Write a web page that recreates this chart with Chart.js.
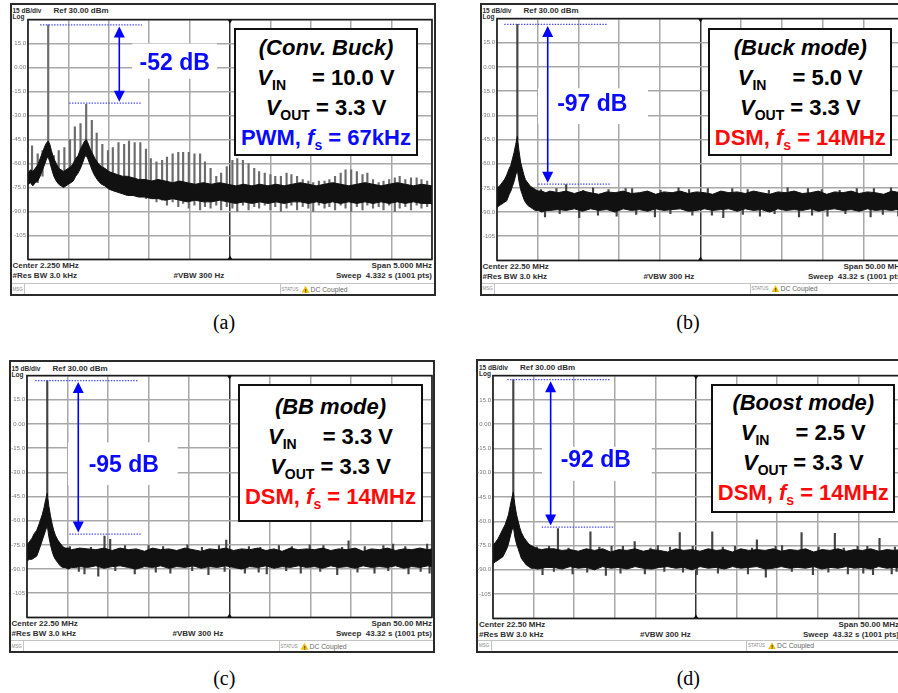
<!DOCTYPE html>
<html>
<head>
<meta charset="utf-8">
<title>Spectrum comparison</title>
<script src="https://cdn.jsdelivr.net/npm/chart.js@4.4.1/dist/chart.umd.min.js"></script>
<style>
  html, body { margin:0; padding:0; background:#fff; }
  #page { position:relative; width:898px; height:693px; overflow:hidden; background:#fff; font-family:"Liberation Sans", Arial, sans-serif; }
  .frame { position:absolute; border:2px solid #2a2a2a; box-sizing:border-box; background:#fff; }
  .hl { position:absolute; height:1px; background:#c4c4c4; }
  .vl { position:absolute; width:1px; background:#c4c4c4; }
  .t { position:absolute; white-space:pre; line-height:1; color:#2e2e2e; font-weight:bold; }
  canvas { position:absolute; }
  .box { position:absolute; box-sizing:border-box; border:2px solid #111; background:#fff; text-align:center; font-weight:bold; font-size:22px; line-height:30px; color:#000; white-space:nowrap; }
  .box .ln { height:30px; }
  .box sub { font-size:14px; vertical-align:-5px; line-height:0; font-style:normal; }
  .box .gap { display:inline-block; width:26px; }
  .db { position:absolute; width:110px; text-align:center; font-weight:bold; font-size:23px; line-height:30px; color:#0a0aff; }
  .cap { position:absolute; width:60px; text-align:center; font-family:"Liberation Serif","Times New Roman",serif; font-size:20px; line-height:24px; color:#000; }
  .warn { position:absolute; width:8px; height:7px; background:#f0c000; clip-path:polygon(50% 0,100% 100%,0 100%); }
</style>
</head>
<body>
<div id="page"></div>
<script>
// ---------------- shared axis data ----------------
const yTickValues = [15, 0, -15, -30, -45, -60, -75, -90, -105];
const yTickText   = ['15.0', '0.00', '-15.0', '-30.0', '-45.0', '-60.0', '-75.0', '-90.0', '-105'];
const xGridA   = [-0.25, 0.25, 0.75, 1.25, 1.75, 2.25, 2.75, 3.25, 3.75, 4.25, 4.75];
const xGridBCD = [-2.5, 2.5, 7.5, 12.5, 17.5, 22.5, 27.5, 32.5, 37.5, 42.5, 47.5];

// ---------------- (a) Conv. Buck, PWM (MHz / dBm) ----------------
const freqA = [-0.25,-0.22,-0.19,-0.16,-0.13,-0.10,-0.07,-0.04,-0.02,0.00,
  0.02,0.04,0.07,0.10,0.13,0.16,0.19,0.22,0.25,0.28,
  0.31,0.34,0.37,0.40,0.43,0.45,0.47,0.49,0.52,0.55,
  0.58,0.62,0.66,0.70,0.75,0.80,0.86,0.92,0.98,1.05,
  1.12,1.20,1.28,1.36,1.45,1.54,1.63,1.72,1.82,1.92,
  2.02,2.12,2.22,2.32,2.42,2.52,2.62,2.72,2.82,2.92,
  3.02,3.12,3.22,3.32,3.42,3.52,3.62,3.72,3.82,3.92,
  4.02,4.12,4.22,4.32,4.42,4.52,4.62,4.75];
const upperA = [-66,-64,-65,-63,-61,-57,-53,-49,-47,-46,
  -48,-52,-57,-60,-63,-64,-65,-64,-63,-62,
  -60,-57,-55,-51,-48,-46,-45,-47,-51,-54,
  -57,-60,-62,-63,-65,-66,-67,-68,-68,-69,
  -70,-70,-71,-70,-71,-72,-71,-72,-73,-72,
  -73,-72,-73,-74,-73,-74,-73,-74,-73,-74,
  -73,-72,-73,-74,-73,-72,-73,-74,-73,-72,
  -73,-74,-73,-72,-73,-74,-73,-74];
const lowerA = [-73,-72,-74,-72,-71,-68,-64,-60,-57,-56,
  -59,-63,-68,-71,-73,-74,-75,-74,-73,-72,
  -71,-68,-66,-63,-59,-56,-55,-57,-61,-65,
  -68,-71,-73,-74,-76,-77,-78,-79,-80,-80,
  -81,-81,-82,-82,-83,-82,-83,-84,-83,-84,
  -84,-83,-84,-85,-84,-85,-84,-85,-84,-85,
  -84,-84,-85,-84,-85,-84,-85,-84,-85,-84,
  -85,-84,-85,-84,-85,-84,-85,-85];
const spikeFreqA = [-0.20,-0.13,-0.07,
  0.00,0.07,0.13,0.20,0.27,0.33,0.40,0.47,0.54,0.60,0.67,
  0.74,0.80,0.87,0.94,1.00,1.07,1.14,1.21,1.27,1.34,1.41,
  1.47,1.54,1.61,1.67,1.74,1.81,1.88,1.94,2.01,2.08,2.14,
  2.21,2.28,2.34,2.41,2.48,2.55,2.61,2.68,2.75,2.81,2.88,
  2.95,3.01,3.08,3.15,3.22,3.28,3.35,3.42,3.48,3.55,3.62,
  3.68,3.75,3.82,3.89,3.95,4.02,4.09,4.15,4.22,4.29,4.35,
  4.42,4.49,4.56,4.62,4.69];
const spikeTopA = [-49,-54,-52,
  26.7,
  -55,-52,-50,-45,-37,-35,
  -23,
  -33,-41,-48,
  -52,-50,-47,-48,-46,-47,-47,-51,-57,-59,
  -58,-56,-54,-53,-53,-53,-54,-54,-59,-63,
  -68,-66,-62,-58,-57,-58,-60,-63,-65,-66,
  -67,-68,-68,-66,-67,-68,-70,-71,-72,-71,
  -71,-70,-68,-66,-64,-64,-65,-67,-66,-70,
  -72,-71,-70,-69,-68,-70,-69,-69,-70,-71];
const spikeBaseA = [-70,-72,-68,
  -50,
  -66,-70,-67,-63,-60,-55,
  -52,
  -58,-64,-70,
  -72,-74,-75,-78,-77,-80,-79,-82,-81,-84,
  -83,-86,-84,-87,-85,-88,-86,-89,-87,-88,
  -86,-89,-87,-88,-90,-86,-89,-87,-88,-86,
  -89,-87,-90,-88,-86,-89,-87,-88,-90,-86,
  -88,-87,-89,-86,-88,-90,-87,-89,-86,-88,
  -87,-89,-86,-90,-88,-87,-89,-86,-88,-87];
const measureA = { top: 26.7, bot: -22.3, topFrom: -0.10, topTo: 1.16, botFrom: 0.26, botTo: 1.16, arrowX: 0.88 };
const whiteA = [1.04, 2.09, 15, -7];

// ---------------- (b)(c)(d) DSM, 50 MHz span ----------------
const freqBCD = [-2.5,-2.2,-1.9,-1.6,-1.3,-1.0,-0.8,-0.6,-0.4,-0.2,
  0.0,0.2,0.4,0.6,0.8,1.0,1.3,1.6,1.9,2.2,2.6,3.0,3.5,4.0,
  5,6,7,8,9,10,11,12,13,14,
  15,16,17,18,19,20,21,22,23,24,
  25,26,27,28,29,30,31,32,33,34,
  35,36,37,38,39,40,41,42,43,44,
  45,46,47,47.5];

const upperB = [-75,-74,-72,-70,-67,-63,-61,-57,-53,-48,
  -43,-52,-59,-63,-67,-70,-72,-74,-75,-76,-77,-77,-78,-77,
  -78,-77,-78.5,-77,-78,-79,-77.5,-78,-77,-78.5,
  -78,-77,-79,-77.5,-78,-77,-78.5,-77.5,-78,-79,
  -77,-78,-77.5,-78.5,-77,-78,-79,-77.5,-78,-77,
  -78.5,-78,-77,-79,-77.5,-78,-77,-78.5,-77.5,-78,
  -79,-77,-78,-77.5];
const lowerB = [-87,-86,-85,-84,-83,-79,-77,-74,-71,-67,
  -64,-71,-76,-79,-82,-84,-86,-87,-88,-89,-89,-90,-89,-89,
  -88.5,-89,-88,-89.5,-88,-89,-88.5,-90,-88,-89,
  -88.5,-89.5,-88,-89,-88.5,-88,-89.5,-89,-88,-89,
  -88.5,-88,-89.5,-88,-89,-88.5,-90,-88,-89,-88.5,
  -89,-88,-89.5,-88.5,-88,-89,-88.5,-89.5,-88,-89,
  -88.5,-89,-88,-88.5];
const spikeFreqB = [0.0, 6.0, 9.3, 14.1, 19.8, 26.4, 33.2, 41.7, 45.9,
  2.9, 4.8, 8.1, 11.2, 13.3, 17.6, 21.1, 23.4, 28.3, 30.9, 35.7, 37.4, 39.6, 43.8, 47.1,
  3.4, 7.6, 12.2, 16.9, 21.5, 25.3, 29.8, 34.6, 38.1, 43.4, 46.8,
  5.2, 9.9, 14.6, 18.8, 23.9, 27.7, 31.6, 36.2, 40.3, 44.9];
const spikeTopB = [26.4, -73, -75, -75.5, -75, -75.5, -75, -75.5, -75,
  -76, -75.5, -76.5, -76, -75.5, -76.5, -76, -75.5, -76, -76.5, -75.5, -76, -76.5, -75.5, -76,
  -86, -86, -86, -86, -86, -86, -86, -86, -86, -86, -86,
  -86, -86, -86, -86, -86, -86, -86, -86, -86, -86];
const spikeBaseB = [-45, -80, -80, -80, -80, -80, -80, -80, -80,
  -80, -80, -80, -80, -80, -80, -80, -80, -80, -80, -80, -80, -80, -80, -80,
  -93, -93.5, -92.5, -93, -92, -93.5, -92.5, -93, -92.5, -93, -92.5,
  -91, -92, -91.5, -91, -92, -91.5, -91, -92, -91, -91.5];
const measureB = { top: 26.4, bot: -72.7, topFrom: -1.6, topTo: 11.0, botFrom: 2.57, botTo: 11.5, arrowX: 3.73 };
const whiteB = [2.54, 16.05, -13.2, -35.4];

const upperC = [-75,-73,-71,-68,-66,-62,-59,-56,-52,-47,
  -43,-51,-57,-62,-66,-69,-72,-74,-76,-77,-77,-78,-77.5,-77,
  -77.5,-78,-77,-78.5,-77,-78,-77.5,-79,-77,-78,
  -77.5,-78.5,-77,-78,-79,-77.5,-78,-77,-78.5,-77.5,
  -78,-77,-78.5,-77.5,-79,-77,-78,-77.5,-78,-77,
  -78.5,-77.5,-78,-77,-79,-77.5,-78,-77,-78.5,-77.5,
  -78,-77,-78,-77.5];
const lowerC = [-85,-84,-84,-83,-82,-78,-75,-72,-69,-66,
  -63,-70,-75,-79,-82,-84,-86,-88,-89,-89,-90,-89,-89,-88.5,
  -89,-88,-89.5,-88.5,-88,-89,-90,-88.5,-89,-88,
  -89.5,-88.5,-89,-88,-89.5,-88.5,-89,-88,-89,-90,
  -88.5,-89,-88,-89.5,-88.5,-89,-88,-89,-88.5,-89.5,
  -88,-89,-88.5,-89.5,-88,-89,-88.5,-89,-88,-89.5,
  -88.5,-89,-88,-88.5];
const spikeFreqC = [0.0, 7.07, 7.77, 22.1, 37.2, 42.7, 12.5, 17.3, 28.6, 32.4, 46.9,
  2.8, 5.4, 9.6, 14.3, 19.1, 21.2, 24.9, 26.3, 30.2, 34.1, 36.4, 39.2, 41.5, 44.2,
  6.3, 4.6, 10.8, 15.2, 19.9, 24.4, 27.1, 31.3, 35.8, 40.4, 44.6, 47.2,
  3.9, 8.4, 13.4, 17.9, 21.9, 26.1, 29.5, 33.7, 38.3, 42.1, 46.1];
const spikeTopC = [26.9, -69.5, -71.5, -72, -72.5, -74.5, -75.5, -75, -75.5, -75, -74.5,
  -76, -76.5, -75.5, -76, -76.5, -75.5, -76, -76.5, -76, -75.5, -76.5, -76, -75.5, -76,
  -86, -86, -86, -86, -86, -86, -86, -86, -86, -86, -86, -86,
  -86, -86, -86, -86, -86, -86, -86, -86, -86, -86, -86];
const spikeBaseC = [-45, -80, -80, -80, -80, -80, -80, -80, -80, -80, -80,
  -80, -80, -80, -80, -80, -80, -80, -80, -80, -80, -80, -80, -80, -80,
  -94.5, -93, -93, -92.5, -93.5, -92.5, -93, -92.5, -93.5, -92.5, -93, -92.5,
  -91.5, -91, -92, -91, -91.5, -92, -91, -91.5, -92, -91, -91.5];
const measureC = { top: 26.9, bot: -68.3, topFrom: -1.48, topTo: 11.17, botFrom: 2.72, botTo: 11.66, arrowX: 3.83 };
const whiteC = [2.56, 16.1, -11.4, -37.9];

const upperD = [-75,-73,-71,-68,-65,-62,-59,-56,-51,-46,
  -42,-50,-56,-60,-64,-67,-70,-72,-74,-75,-76,-77,-77.5,-77,
  -77,-78,-77.5,-78.5,-77,-78,-77,-79,-77.5,-78,
  -77,-78.5,-77.5,-78,-79,-77,-78,-77.5,-78.5,-77,
  -78,-77.5,-79,-77,-78,-77.5,-78,-77,-78.5,-77.5,
  -78,-77,-79,-77.5,-78,-77,-78.5,-77.5,-78,-77,
  -78.5,-77.5,-78,-77.5];
const lowerD = [-86,-85,-84,-83,-82,-79,-77,-74,-70,-66,
  -63,-70,-74,-77,-80,-83,-85,-87,-88,-89,-89,-89.5,-89,-88.5,
  -88.5,-89.5,-88,-89,-88.5,-90,-88,-89,-88.5,-89.5,
  -88,-89,-89.5,-88.5,-88,-89,-88.5,-90,-88,-89,
  -88.5,-89.5,-88,-89,-88.5,-88,-89.5,-89,-88,-89,
  -88.5,-89,-88,-89.5,-88.5,-89,-88,-89,-88.5,-89.5,
  -88,-89,-88.5,-89];
const spikeFreqD = [0.0, 5.5, 9.5, 14.95, 20.5, 24.5, 30.0, 35.5, 39.6, 45.1, 12.1, 17.8, 27.3, 33.1, 42.4,
  2.9, 4.4, 6.8, 10.6, 13.5, 16.9, 19.3, 22.1, 25.8, 29.4, 32.3, 37.6, 40.7, 43.6, 47.0,
  3.6, 7.3, 11.4, 16.2, 22.6, 28.9, 31.1, 36.9, 41.2, 44.3, 46.6,
  5.0, 9.1, 13.2, 18.6, 20.9, 25.2, 34.3, 38.8, 43.1, 47.2];
const spikeTopD = [27.5, -64.5, -66.5, -72.5, -67, -66.5, -71.5, -67, -67.5, -70.5, -75.5, -75, -75.5, -75, -75.5,
  -76, -75.5, -76.5, -76, -75.5, -76.5, -76, -75.5, -76, -76.5, -75.5, -76, -76.5, -75.5, -76,
  -86, -86, -86, -86, -86, -86, -86, -86, -86, -86, -86,
  -86, -86, -86, -86, -86, -86, -86, -86, -86, -86];
const spikeBaseD = [-45, -82, -82, -82, -82, -82, -82, -82, -82, -82, -80, -80, -80, -80, -80,
  -80, -80, -80, -80, -80, -80, -80, -80, -80, -80, -80, -80, -80, -80, -80,
  -93, -92.5, -93.5, -92.5, -93, -92.5, -94.5, -93, -92.5, -93, -92.5,
  -91, -91.5, -92, -91, -91.5, -92, -91, -91.5, -92, -91];
const measureD = { top: 27.5, bot: -63.6, topFrom: -0.74, topTo: 11.9, botFrom: 3.5, botTo: 12.4, arrowX: 4.6 };
const whiteD = [3.53, 17.05, -14, -35];

// ---------------- layout / text per panel ----------------
const panels = [
  { outer:{l:9.5,t:2.5,r:436,b:296}, plot:{L:28,T:19,R:432,B:260},
    xMin:-0.25, xMax:4.75, xGrid:xGridA, center:2.25,
    freq:freqA, upper:upperA, lower:lowerA, sf:spikeFreqA, st:spikeTopA, sb:spikeBaseA, spikeColor:'#6c6c6c',
    measure:measureA, white:whiteA,
    centerText:'Center 2.250 MHz', spanText:'Span 5.000 MHz', sweepText:'Sweep  4.332 s (1001 pts)',
    dbText:'-52 dB', dbX:174.7, dbY:61.7,
    box:{l:234,t:28,w:184,h:128,pt:4.7,title:'(Conv. Buck)',vin:'10.0 V',vout:'3.3 V',mode:'PWM',fs:'67kHz',color:'#0a0aff'},
    caption:'(a)', capX:224, capY:322 },
  { outer:{l:479.5,t:2.5,r:908,b:295.5}, plot:{L:497,T:18,R:904,B:261},
    xMin:-2.5, xMax:47.5, xGrid:xGridBCD, center:22.5,
    freq:freqBCD, upper:upperB, lower:lowerB, sf:spikeFreqB, st:spikeTopB, sb:spikeBaseB, spikeColor:'#444',
    measure:measureB, white:whiteB,
    centerText:'Center 22.50 MHz', spanText:'Span 50.00 MHz', sweepText:'Sweep  43.32 s (1001 pts)',
    dbText:'-97 dB', dbX:592.3, dbY:103.3,
    box:{l:708.3,t:28,w:184,h:128,pt:4.5,title:'(Buck mode)',vin:'5.0 V',vout:'3.3 V',mode:'DSM',fs:'14MHz',color:'#ff0a0a'},
    caption:'(b)', capX:688, capY:322 },
  { outer:{l:8.5,t:360,r:435,b:653}, plot:{L:27,T:375,R:432,B:618},
    xMin:-2.5, xMax:47.5, xGrid:xGridBCD, center:22.5,
    freq:freqBCD, upper:upperC, lower:lowerC, sf:spikeFreqC, st:spikeTopC, sb:spikeBaseC, spikeColor:'#444',
    measure:measureC, white:whiteC,
    centerText:'Center 22.50 MHz', spanText:'Span 50.00 MHz', sweepText:'Sweep  43.32 s (1001 pts)',
    dbText:'-95 dB', dbX:123.8, dbY:464.3,
    box:{l:238.3,t:384,w:184.4,h:137.7,pt:8.3,title:'(BB mode)',vin:'3.3 V',vout:'3.3 V',mode:'DSM',fs:'14MHz',color:'#ff0a0a'},
    caption:'(c)', capX:224.3, capY:678.3 },
  { outer:{l:476,t:359,r:903,b:652.5}, plot:{L:493,T:375,R:899,B:619},
    xMin:-2.5, xMax:47.5, xGrid:xGridBCD, center:22.5,
    freq:freqBCD, upper:upperD, lower:lowerD, sf:spikeFreqD, st:spikeTopD, sb:spikeBaseD, spikeColor:'#444',
    measure:measureD, white:whiteD,
    centerText:'Center 22.50 MHz', spanText:'Span 50.00 MHz', sweepText:'Sweep  43.32 s (1001 pts)',
    dbText:'-92 dB', dbX:595.8, dbY:459.3,
    box:{l:711.3,t:384,w:184,h:128.7,pt:4,title:'(Boost mode)',vin:'2.5 V',vout:'3.3 V',mode:'DSM',fs:'14MHz',color:'#ff0a0a'},
    caption:'(d)', capX:688.3, capY:678.3 }
];

// ---------------- helpers ----------------
const page = document.getElementById('page');
function el(tag, cls, style, html) {
  const e = document.createElement(tag);
  if (cls) e.className = cls;
  Object.assign(e.style, style || {});
  if (html !== undefined) e.innerHTML = html;
  page.appendChild(e);
  return e;
}
function txt(s, x, yc, size, align, extra) {
  const tr = align === 'right' ? 'translate(-100%,-50%)' : align === 'center' ? 'translate(-50%,-50%)' : 'translate(0,-50%)';
  const e = el('div', 't', Object.assign({ left: x + 'px', top: yc + 'px', fontSize: size + 'px', transform: tr }, extra || {}));
  e.textContent = s;
  return e;
}

const specDeco = {
  id: 'specDeco',
  beforeDatasetsDraw(chart, args, o) {
    const { ctx, scales: { x, y } } = chart;
    const w = o.white;
    const x0 = x.getPixelForValue(w[0]), x1 = x.getPixelForValue(w[1]);
    const y0 = y.getPixelForValue(w[2]), y1 = y.getPixelForValue(w[3]);
    ctx.save(); ctx.fillStyle = '#fff'; ctx.fillRect(x0, y0, x1 - x0, y1 - y0); ctx.restore();
  },
  afterDatasetsDraw(chart, args, o) {
    const { ctx, chartArea: a, scales: { x, y } } = chart;
    const m = o.measure;
    ctx.save();
    const yT = y.getPixelForValue(m.top), yB = y.getPixelForValue(m.bot);
    ctx.strokeStyle = '#4646ff'; ctx.lineWidth = 1.3; ctx.setLineDash([1.4, 1.4]);
    ctx.beginPath();
    ctx.moveTo(x.getPixelForValue(m.topFrom), yT); ctx.lineTo(x.getPixelForValue(m.topTo), yT);
    ctx.moveTo(x.getPixelForValue(m.botFrom), yB); ctx.lineTo(x.getPixelForValue(m.botTo), yB);
    ctx.stroke();
    ctx.setLineDash([]);
    const ax = x.getPixelForValue(m.arrowX);
    const t0 = yT + 1.5, b0 = yB - 1.5, ah = 11, aw = 5.5;
    ctx.strokeStyle = '#0000ff'; ctx.fillStyle = '#0000ff'; ctx.lineWidth = 1.6;
    ctx.beginPath(); ctx.moveTo(ax, t0 + ah - 1); ctx.lineTo(ax, b0 - ah + 1); ctx.stroke();
    ctx.beginPath(); ctx.moveTo(ax, t0); ctx.lineTo(ax - aw, t0 + ah); ctx.lineTo(ax + aw, t0 + ah); ctx.closePath(); ctx.fill();
    ctx.beginPath(); ctx.moveTo(ax, b0); ctx.lineTo(ax - aw, b0 - ah); ctx.lineTo(ax + aw, b0 - ah); ctx.closePath(); ctx.fill();
    ctx.strokeStyle = '#1a1a1a'; ctx.lineWidth = 1.6;
    ctx.strokeRect(a.left, a.top, a.right - a.left, a.bottom - a.top);
    const cx = x.getPixelForValue(o.center);
    ctx.fillStyle = '#111';
    ctx.beginPath(); ctx.moveTo(cx - 2.5, a.top); ctx.lineTo(cx + 2.5, a.top); ctx.lineTo(cx, a.top + 4); ctx.closePath(); ctx.fill();
    ctx.beginPath(); ctx.moveTo(cx - 2.5, a.bottom); ctx.lineTo(cx + 2.5, a.bottom); ctx.lineTo(cx, a.bottom - 4); ctx.closePath(); ctx.fill();
    ctx.restore();
  }
};

function buildPanel(P) {
  const o = P.outer, p = P.plot;
  el('div', 'frame', { left: o.l + 'px', top: o.t + 'px', width: (o.r - o.l) + 'px', height: (o.b - o.t) + 'px' });
  // status row
  el('div', 'hl', { left: (o.l + 2) + 'px', top: (o.b - 13) + 'px', width: (o.r - o.l - 4) + 'px' });
  el('div', 'vl', { left: (o.l + 14.5) + 'px', top: (o.b - 12) + 'px', height: '10px' });
  el('div', 'vl', { left: (o.l + 270) + 'px', top: (o.b - 12) + 'px', height: '10px' });
  const sy = o.b - 6.3;
  txt('MSG', o.l + 3, sy, 4.5, 'left', { color: '#888', fontWeight: 'normal' });
  txt('STATUS', o.l + 272, sy, 4.5, 'left', { color: '#888', fontWeight: 'normal' });
  el('div', 'warn', { left: (o.l + 292) + 'px', top: (sy - 4) + 'px' });
  txt('!', o.l + 296, sy + 1, 5, 'center', { color: '#000' });
  txt('DC Coupled', o.l + 301, sy, 6.8, 'left', { color: '#666', fontWeight: 'normal' });
  // header / footer
  txt('15 dB/div', o.l + 3, o.t + 8.5, 6.5, 'left');
  txt('Log', o.l + 3, o.t + 14.6, 6.5, 'left');
  txt('Ref 30.00 dBm', o.l + 44, o.t + 8.5, 8, 'left');
  txt(P.centerText, o.l + 3, p.B + 6, 8, 'left');
  txt('#Res BW 3.0 kHz', o.l + 3, p.B + 16, 8, 'left');
  txt('#VBW 300 Hz', o.l + 164, p.B + 16, 8, 'left');
  txt(P.spanText, p.R, p.B + 6, 8, 'right');
  txt(P.sweepText, p.R, p.B + 16, 8, 'right');

  // chart canvas
  const padL = 20, pad = 5;
  const cw = Math.round(p.R - p.L + padL + pad), ch = Math.round(p.B - p.T + 2 * pad);
  const cv = el('canvas', null, { left: (p.L - padL) + 'px', top: (p.T - pad) + 'px', width: cw + 'px', height: ch + 'px' });
  cv.width = cw; cv.height = ch;

  const spikes = P.sf.map((f, i) => ({ x: f, y: [P.sb[i], P.st[i]] }));
  const up = P.freq.map((f, i) => ({ x: f, y: P.upper[i] }));
  const lo = P.freq.map((f, i) => ({ x: f, y: P.lower[i] }));

  new Chart(cv.getContext('2d'), {
    type: 'line',
    data: {
      datasets: [
        { type: 'line', data: up, borderColor: '#111', borderWidth: 1, pointRadius: 0, fill: false, tension: 0, order: 0 },
        { type: 'line', data: lo, borderColor: '#111', borderWidth: 1, pointRadius: 0, fill: '-1', backgroundColor: '#111', tension: 0, order: 0 },
        { type: 'bar', data: spikes, backgroundColor: P.spikeColor, borderWidth: 0, barThickness: 1.5, order: 2 }
      ]
    },
    options: {
      responsive: false, animation: false, devicePixelRatio: 1, events: [],
      layout: { padding: { left: 0, top: pad, right: pad, bottom: pad }, autoPadding: false },
      plugins: {
        legend: { display: false }, tooltip: { enabled: false },
        specDeco: { measure: P.measure, white: P.white, center: P.center }
      },
      scales: {
        x: {
          type: 'linear', min: P.xMin, max: P.xMax, offset: false,
          afterBuildTicks: s => { s.ticks = P.xGrid.map(v => ({ value: v })); },
          afterFit: s => { s.height = 0; },
          ticks: { display: false },
          border: { display: false },
          grid: { offset: false, drawTicks: false, lineWidth: 1.5,
                  color: c => (c.tick && Math.abs(c.tick.value - P.center) < 1e-9) ? '#333' : '#a8a8a8' }
        },
        y: {
          type: 'linear', min: -120, max: 30,
          afterFit: s => { s.width = padL; },
          ticks: { stepSize: 15, autoSkip: false, padding: 2, color: '#777',
                   font: { size: 6, family: 'Liberation Sans' },
                   callback: v => { const i = yTickValues.indexOf(v); return i < 0 ? '' : yTickText[i]; } },
          border: { display: false },
          grid: { drawTicks: false, lineWidth: 1.5, color: '#a8a8a8' }
        }
      }
    },
    plugins: [specDeco]
  });

  // measurement label
  el('div', 'db', { left: (P.dbX - 55) + 'px', top: (P.dbY - 15) + 'px' }, P.dbText);

  // condition box
  const b = P.box;
  el('div', 'box', { left: b.l + 'px', top: b.t + 'px', width: b.w + 'px', height: b.h + 'px', paddingTop: (b.pt - 2) + 'px' },
    '<div class="ln"><i>' + b.title + '</i></div>' +
    '<div class="ln"><i>V</i><sub>IN</sub><span class="gap"></span>= ' + b.vin + '</div>' +
    '<div class="ln"><i>V</i><sub>OUT</sub> = ' + b.vout + '</div>' +
    '<div class="ln" style="color:' + b.color + '">' + b.mode + ', <i>f</i><sub>s</sub> = ' + b.fs + '</div>');

  // caption
  el('div', 'cap', { left: (P.capX - 30) + 'px', top: (P.capY - 12) + 'px' }, P.caption);
}

panels.forEach(buildPanel);
</script>
</body>
</html>
